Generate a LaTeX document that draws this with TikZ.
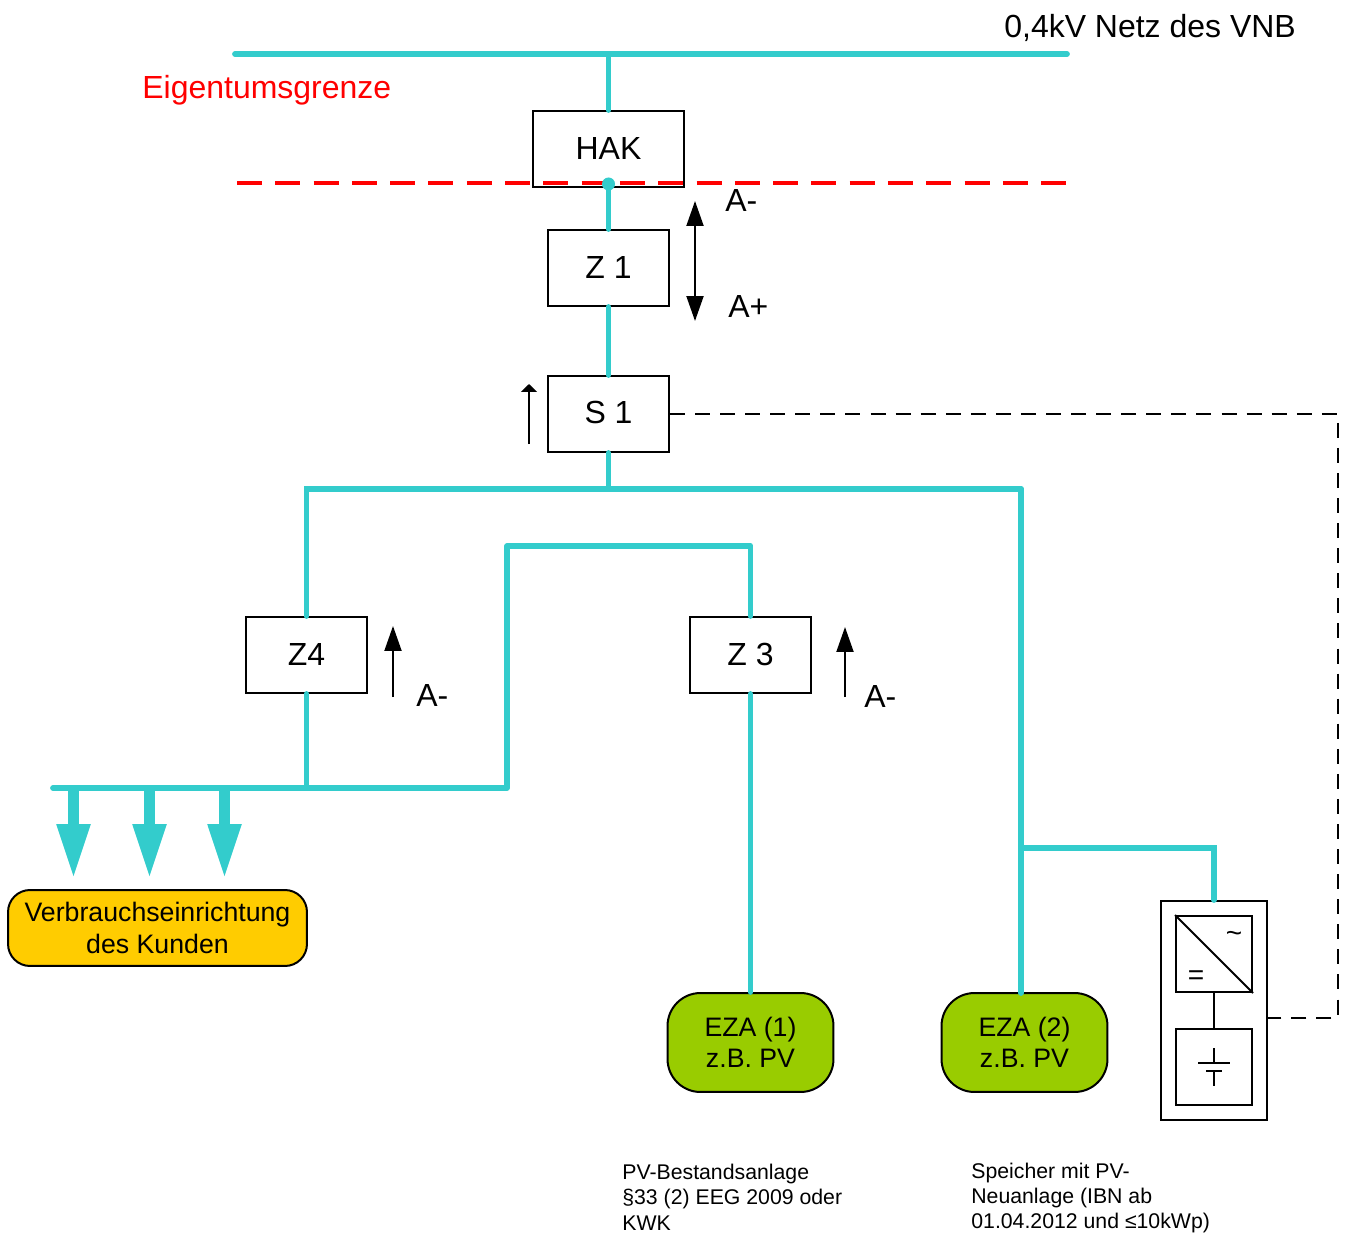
\documentclass[tikz,border=0pt]{standalone}
\usepackage{fontspec}
\setmainfont{Liberation Sans}
\usetikzlibrary{arrows.meta}
\definecolor{netz}{HTML}{33CCCC}
\definecolor{kunde}{HTML}{FFCC00}
\definecolor{anlage}{HTML}{99CC00}

\begin{document}
\begin{tikzpicture}[x=0.02cm, y=-0.02cm,
      box/.style={draw, line width=0.04cm, minimum width=2.42cm, minimum height=1.52cm, inner sep=0pt, font=\fontsize{18.2}{22}\selectfont},
      eza/.style={draw, line width=0.04cm, fill=anlage, rounded corners=0.66cm, minimum width=3.32cm, minimum height=1.98cm, inner sep=0pt, align=center, font=\fontsize{15.2}{18}\selectfont},
      part/.style={draw, line width=0.04cm, minimum size=1.52cm, inner sep=0pt},
      line/.style={netz, line width=0.115cm, line cap=round},
      flow/.style={line width=0.04cm, -{Triangle[length=0.5cm, width=0.34cm]}},
      feed/.style={netz, line width=0.22cm, -{Triangle[length=1.1cm, width=0.62cm]}},
      wire/.style={line width=0.04cm},
      link/.style={line width=0.04cm, dash pattern=on 0.3cm off 0.2015cm},
      big/.style={font=\fontsize{18.2}{22}\selectfont},
      small/.style={align=left, font=\fontsize{12.1}{14.5}\selectfont}]
      \useasboundingbox (0,0) rectangle (1346,1233);

      % boxes
      \node[box, minimum width=3.02cm] (hak) at (608.5,149) {HAK};
      \node[box] (z1) at (608.5,268) {Z 1};
      \node[box, text depth=2pt] (s1) at (608.5,414) {S 1};
      \node[box, text depth=1pt] (z4) at (306.5,655) {Z4};
      \node[box, text depth=1pt] (z3) at (750.5,655) {Z 3};
      \node[draw, line width=0.04cm, fill=kunde, rounded corners=0.44cm, minimum width=5.98cm, minimum height=1.52cm, inner sep=0pt, align=center, font=\fontsize{15.2}{18}\selectfont] (kunde) at (157.5,928) {Verbrauchseinrichtung\\des Kunden};
      \node[eza] (eza1) at (750.5,1042.5) {EZA (1)\\z.B. PV};
      \node[eza] (eza2) at (1024.5,1042.5) {EZA (2)\\z.B. PV};

      % storage
      \node[draw, line width=0.04cm, minimum width=2.12cm, minimum height=4.38cm, inner sep=0pt] (speicher) at (1214,1010.5) {};
      \node[part] (wr) at (1214,954) {};
      \node[part] (batt) at (1214,1067) {};
      \draw[wire] (wr.north west) -- (wr.south east);
      \node[font=\fontsize{16}{18}\selectfont] (ac) at (1234,937) {\string~};
      \node[font=\fontsize{16}{18}\selectfont] (dc) at (1196,978) {=};
      \draw[wire] (wr.south) -- (batt.north);
      \draw[wire] (1214,1048) -- (1214,1063);
      \draw[wire] (1198,1063) -- (1230,1063);
      \draw[wire] (1206,1070.5) -- (1222,1070.5);
      \draw[wire] (1214,1070.5) -- (1214,1086);

      % grid lines
      \coordinate (nordwest) at (235,54);
      \coordinate (nordost) at (1067,54);
      \coordinate (abzweig) at (608.5,54);
      \draw[line] (nordwest) -- (nordost);
      \draw[line] (abzweig) -- (hak.north);
      \coordinate (kante) at (608.5,184);
      \draw[line] (kante) -- (z1.north);
      \draw[line] (z1.south) -- (s1.north);
      \coordinate (mitte) at (608.5,489);
      \coordinate (ost) at (1021,489);
      \draw[line] (s1.south) -- (mitte);
      \draw[line] (z4.north) |- (ost);
      \coordinate (eza2top) at (1021,993);
      \draw[line] (ost) -- (eza2top);
      \coordinate (knoten) at (1021,848);
      \draw[line] (knoten) -| (speicher.north);
      \coordinate (lastwest) at (53,788);
      \coordinate (lastknoten) at (306.5,788);
      \coordinate (lastost) at (507,788);
      \coordinate (bogen) at (507,546);
      \draw[line] (z4.south) -- (lastknoten);
      \draw[line, line join=round] (lastwest) -- (lastost) -- (bogen) -| (z3.north);
      \draw[line] (z3.south) -- (eza1.north);

      % feeds to the customer
      \foreach \x/\n in {73.5/a,149.5/b,224.5/c} {%
        \coordinate (last\n) at (\x,788);
        \coordinate (ziel\n) at (\x,879);
        \draw[feed] (last\n) -- (ziel\n);
      }

      % property line
      \coordinate (grenzewest) at (237,183);
      \coordinate (grenzeost) at (1069,183);
      \draw[red, line width=0.07cm, dash pattern=on 0.5cm off 0.266cm] (grenzewest) -- (grenzeost);
      \fill[netz] (kante) circle (6.5);

      % dashed signal line
      \coordinate (ecke1) at (1338,414);
      \coordinate (ecke2) at (1338,1018);
      \coordinate (port) at (1268,1018);
      \draw[link] (s1.east) -- (ecke1) -- (ecke2) -- (port);

      % direction arrows
      \coordinate (pfeil1a) at (695,201);
      \coordinate (pfeil1b) at (695,321);
      \draw[line width=0.04cm, {Triangle[length=0.5cm, width=0.34cm]}-{Triangle[length=0.5cm, width=0.34cm]}] (pfeil1a) -- (pfeil1b);
      \coordinate (pfeil2a) at (529,444);
      \coordinate (pfeil2b) at (529,384);
      \draw[line width=0.04cm, -{Triangle[length=0.16cm, width=0.32cm]}] (pfeil2a) -- (pfeil2b);
      \coordinate (pfeil3a) at (393,697);
      \coordinate (pfeil3b) at (393,626);
      \draw[flow] (pfeil3a) -- (pfeil3b);
      \coordinate (pfeil4a) at (845,697);
      \coordinate (pfeil4b) at (845,627);
      \draw[flow] (pfeil4a) -- (pfeil4b);

      % labels
      \node[big, anchor=west, inner sep=0pt] (vnb) at (1004,28) {0,4kV Netz des VNB};
      \node[big, anchor=west, inner sep=0pt, red] (grenze) at (142,90) {Eigentumsgrenze};
      \node[big, anchor=west, inner sep=0pt] (am1) at (725,201) {A-};
      \node[big, anchor=west, inner sep=0pt] (ap1) at (728,307) {A+};
      \node[big, anchor=west, inner sep=0pt] (am4) at (416,695) {A-};
      \node[big, anchor=west, inner sep=0pt] (am3) at (864,696) {A-};
      \node[small, anchor=west, inner sep=0pt] (bestand) at (622,1197) {PV-Bestandsanlage\\§33 (2) EEG 2009 oder\\KWK};
      \node[small, anchor=west, inner sep=0pt] (neu) at (971,1198) {Speicher mit PV-\\Neuanlage (IBN ab\\01.04.2012 und ≤10kWp)};
    \end{tikzpicture}
\end{document}
